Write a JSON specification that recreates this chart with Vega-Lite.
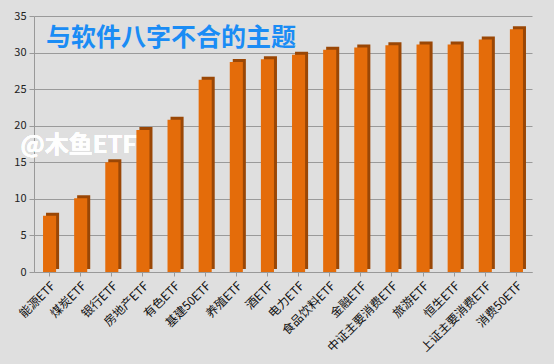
{
  "$schema": "https://vega.github.io/schema/vega-lite/v6.json",
  "autosize": "none",
  "width": 498,
  "height": 256,
  "padding": {"left": 34, "top": 16, "right": 22, "bottom": 92},
  "background": "#dfdfdf",
  "config": {
    "font": "Noto Sans CJK SC",
    "view": {"stroke": null},
    "axis": {"labelFont": "Noto Sans CJK SC"}
  },
  "title": {
    "text": "与软件八字不合的主题",
    "anchor": "start",
    "frame": "group",
    "orient": "top",
    "offset": -41,
    "dx": 12,
    "fontSize": 25,
    "fontWeight": "bold",
    "color": "#1a8cf5",
    "font": "Noto Sans CJK SC"
  },
  "data": {
    "values": [
      {"etf": "能源ETF", "v": 7.7},
      {"etf": "煤炭ETF", "v": 10.1},
      {"etf": "银行ETF", "v": 15.0},
      {"etf": "房地产ETF", "v": 19.4},
      {"etf": "有色ETF", "v": 20.8},
      {"etf": "基建50ETF", "v": 26.3},
      {"etf": "养殖ETF", "v": 28.7},
      {"etf": "酒ETF", "v": 29.1},
      {"etf": "电力ETF", "v": 29.7},
      {"etf": "食品饮料ETF", "v": 30.4},
      {"etf": "金融ETF", "v": 30.7},
      {"etf": "中证主要消费ETF", "v": 31.0},
      {"etf": "旅游ETF", "v": 31.1},
      {"etf": "恒生ETF", "v": 31.1},
      {"etf": "上证主要消费ETF", "v": 31.8},
      {"etf": "消费50ETF", "v": 33.2}
    ]
  },
  "encoding": {
    "x": {
      "field": "etf",
      "type": "nominal",
      "sort": null,
      "title": null,
      "scale": {"paddingInner": 0.58, "paddingOuter": 0.29},
      "axis": {
        "labelAngle": -45,
        "labelFontSize": 12,
        "labelColor": "#111111",
        "domainColor": "#999999",
        "tickColor": "#999999",
        "tickSize": 4,
        "labelPadding": 4
      }
    },
    "y": {
      "field": "v",
      "type": "quantitative",
      "title": null,
      "scale": {"domain": [0, 35], "nice": false},
      "axis": {
        "values": [0, 5, 10, 15, 20, 25, 30, 35],
        "labelFontSize": 11,
        "labelColor": "#222222",
        "gridColor": "#9a9a9a",
        "gridWidth": 1,
        "domainColor": "#999999",
        "tickColor": "#999999",
        "tickSize": 5,
        "labelPadding": 3
      }
    }
  },
  "layer": [
    {
      "mark": {"type": "bar", "color": "#9a4706", "xOffset": 3, "yOffset": -3}
    },
    {
      "mark": {"type": "bar", "color": "#e46c0a"}
    },
    {
      "mark": {
        "type": "text",
        "text": "@木鱼ETF",
        "align": "left",
        "baseline": "middle",
        "dx": -29,
        "fontSize": 24,
        "fontWeight": "bold",
        "color": "#ffffff",
        "opacity": 0.85
      },
      "encoding": {
        "x": {"datum": "能源ETF"},
        "y": {"datum": 17.2}
      }
    }
  ]
}
